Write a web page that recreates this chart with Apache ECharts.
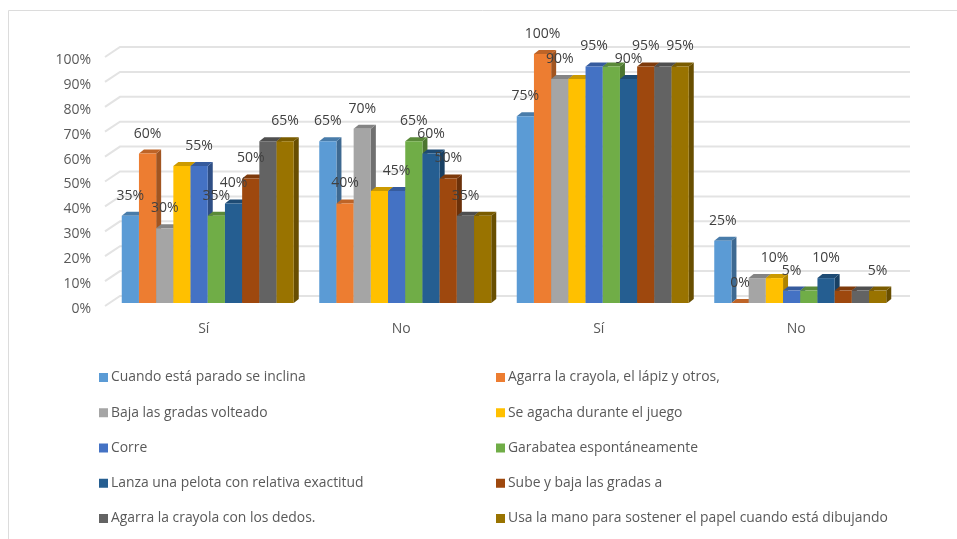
<!DOCTYPE html>
<html><head><meta charset="utf-8">
<style>html,body{margin:0;padding:0;background:#fff}#c{width:957px;height:539px;filter:blur(0.45px)}</style>
<script src="https://cdn.jsdelivr.net/npm/echarts@6/dist/echarts.min.js"></script>
</head><body><div id="c"></div>
<script>
const categories = ['Sí', 'No', 'Sí ', 'No '];
const tickValues = [0,10,20,30,40,50,60,70,80,90,100];
const names = ['Cuando está parado se inclina','Agarra la crayola, el lápiz y otros,','Baja las gradas volteado','Se agacha durante el juego','Corre','Garabatea espontáneamente','Lanza una pelota con relativa exactitud','Sube y baja las gradas a','Agarra la crayola con los dedos.','Usa la mano para sostener el papel cuando está dibujando'];
const colors = ['#5B9BD5','#ED7D31','#A5A5A5','#FFC000','#4472C4','#70AD47','#255E91','#9E480E','#636363','#997300'];
const s1 = [35,65,75,25];
const s2 = [60,40,100,0];
const s3 = [30,70,90,10];
const s4 = [55,45,90,10];
const s5 = [55,45,95,5];
const s6 = [35,65,95,5];
const s7 = [40,60,90,10];
const s8 = [50,50,95,5];
const s9 = [65,35,95,5];
const s10 = [65,35,95,5];
const values = [s1,s2,s3,s4,s5,s6,s7,s8,s9,s10];
// labels that the reference shows (1) or omits (0), per series and category
const shown = [[1,1,1,1],[1,1,1,1],[1,1,1,0],[0,0,0,1],[1,1,1,1],[1,1,0,0],[1,1,1,1],[1,1,1,0],[0,1,0,0],[1,0,1,1]];

const FONT = '"Open Sans", "Liberation Sans", sans-serif';
const DX = 5, DY = 4, GROUP = 172 / 197.5, N = values.length;
function shade(hex, f) {
  const n = parseInt(hex.slice(1), 16);
  const c = [(n>>16)&255,(n>>8)&255,n&255].map(v => Math.round(v*f));
  return 'rgb(' + c.join(',') + ')';
}
function barRender(si) {
  return function (params, api) {
    const i = api.value(0), v = api.value(1);
    const base = api.coord([i, 0]), top = api.coord([i, v]);
    const cat = api.size([1, 0])[0], w = cat * GROUP / N;
    const x0 = base[0] - cat * GROUP / 2 + si * w, x1 = x0 + w;
    const yT = top[1], yB = base[1], c = colors[si];
    return { type: 'group', children: [
      { type:'polygon', shape:{points:[[x1,yT],[x1+DX,yT-DY],[x1+DX,yB-DY],[x1,yB]]}, style:{fill:shade(c,0.68)} },
      { type:'polygon', shape:{points:[[x0,yT],[x0+DX,yT-DY],[x1+DX,yT-DY],[x1,yT]]}, style:{fill:shade(c,0.8)} },
      { type:'rect', shape:{x:x0,y:yT,width:w,height:yB-yT}, style:{fill:c} }
    ]};
  };
}
function wallRender(params, api) {
  const v = api.value(0);
  const cs = params.coordSys;
  const y = api.coord([0, v])[1];
  const L = cs.x, R = cs.x + cs.width;
  const st = {stroke:'#e3e3e3', lineWidth:2, fill:'none'};
  return { type:'polyline', shape:{points:[[L-4,y+3],[L+11,y-7],[R+11,y-7]]}, style:st };
}
const labelData = [];
values.forEach((arr, si) => arr.forEach((v, ci) => { if (shown[si][ci]) labelData.push([ci, v, si]); }));
function labelRender(params, api) {
  const ci = api.value(0), v = api.value(1), si = api.value(2);
  const top = api.coord([ci, v]);
  const cat = api.size([1, 0])[0], w = cat * GROUP / N;
  const x = top[0] - cat * GROUP / 2 + (si + 0.5) * w;
  return { type:'text', x:x, y:top[1]-20, style:{text:v+'%', fill:'#404040', font:'14px '+FONT, align:'center', verticalAlign:'middle'} };
}
const series = [{ type:'custom', name:'wall', silent:true, clip:false, z:1, encode:{y:0}, data:tickValues.map(v=>[v]), renderItem:wallRender, animation:false }];
values.forEach((arr, si) => series.push({
  type:'custom', name:names[si], clip:false, z:2+si, silent:true, animation:false,
  itemStyle:{color:colors[si]}, encode:{x:0,y:1},
  data:arr.map((v,i)=>[i,v]), renderItem:barRender(si)
}));
series.push({ type:'custom', name:'labels', clip:false, z:30, silent:true, animation:false, encode:{x:0,y:1}, data:labelData, renderItem:labelRender });

const legendCommon = {orient:'vertical', itemWidth:9, itemHeight:9, itemGap:21.25, icon:'rect', top:365.5, selectedMode:false, padding:5,
  textStyle:{color:'#595959', fontFamily:FONT, fontSize:13.9, padding:[0,0,0,-2], lineHeight:13.3}};
const chart = echarts.init(document.getElementById('c'), null, {renderer:'canvas'});
chart.setOption({
  animation:false, backgroundColor:'#fff',
  grid:[{left:109, right:58, top:54, height:249},{left:109, right:58, top:60, height:249}],
  xAxis:[{type:'category', data:categories, axisLine:{show:false}, axisTick:{show:false},
    axisLabel:{color:'#595959', fontFamily:FONT, fontSize:14, margin:19, padding:[0,8,0,0], formatter:v=>v.trim()}},
    {type:'category', gridIndex:1, data:categories, show:false}],
  yAxis:[{type:'value', min:0, max:100, interval:10, splitLine:{show:false}, axisLine:{show:false}, axisTick:{show:false}, axisLabel:{show:false}},
    {type:'value', gridIndex:1, min:0, max:100, interval:10, splitLine:{show:false}, axisLine:{show:false}, axisTick:{show:false},
    axisLabel:{color:'#595959', fontFamily:FONT, fontSize:14, margin:18, formatter:'{value}%'}}],
  legend:[
    Object.assign({}, legendCommon, {left:94, data:names.filter((n,i)=>i%2===0)}),
    Object.assign({}, legendCommon, {left:491, data:names.filter((n,i)=>i%2===1)})
  ],
  graphic:[
    {type:'polyline', silent:true, shape:{points:[[8.5,539],[8.5,10.5],[957,10.5]]}, style:{stroke:'#dcdcdc', lineWidth:1, fill:'none'}}
  ],
  series:series
});
</script></body></html>
